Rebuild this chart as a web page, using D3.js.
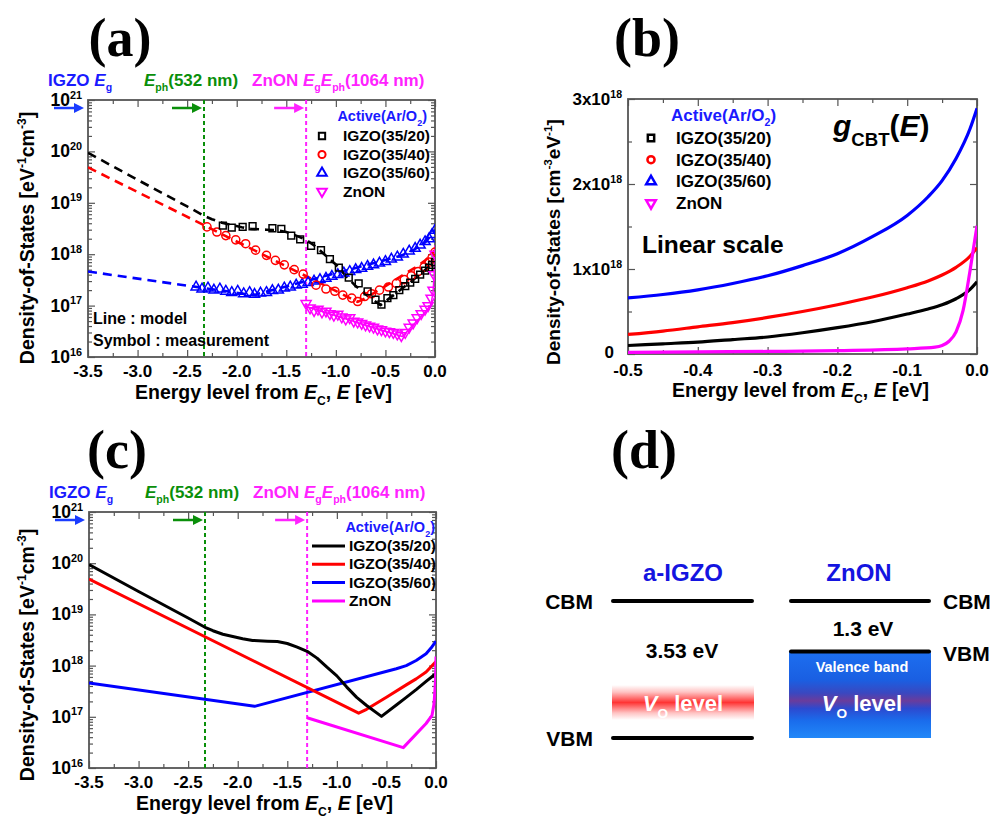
<!DOCTYPE html>
<html>
<head>
<meta charset="utf-8">
<script src="https://cdn.jsdelivr.net/npm/d3@7"></script>
<style>
  body { margin: 0; background: #fff; }
  svg { display: block; font-family: "Liberation Sans", Arial, Helvetica, sans-serif; font-weight: bold; }
</style>
</head>
<body>
<svg id="fig" width="991" height="818"></svg>
<script>
// ---- data ----
const seriesNames = ["IGZO(35/20)", "IGZO(35/40)", "IGZO(35/60)", "ZnON"];

// panels (a)/(c): DOS model curves [E (eV), DOS (eV^-1 cm^-3)]
const model3520 = [[-3.5, 9.4e19], [-3.0, 2.8e19], [-2.5, 8.5e18], [-2.33, 5.6e18], [-2.25, 4.8e18], [-2.15, 4.1e18],
  [-2.05, 3.7e18], [-1.95, 3.35e18], [-1.85, 3.1e18], [-1.7, 3.0e18], [-1.6, 2.95e18], [-1.5, 2.7e18], [-1.4, 2.3e18],
  [-1.3, 1.9e18], [-1.2, 1.4e18], [-1.1, 9.3e17], [-1.0, 6.3e17], [-0.9, 3.8e17], [-0.8, 2.4e17], [-0.7, 1.66e17],
  [-0.55, 1.02e17], [-0.4, 1.7e17], [-0.3, 2.4e17], [-0.2, 3.4e17], [-0.1, 4.9e17], [0, 7.0e17]];
const model3540 = [[-3.5, 4.9e19], [-0.78, 1.18e17], [-0.7, 1.4e17], [-0.5, 2.4e17], [-0.3, 4.2e17], [-0.2, 5.5e17],
  [-0.1, 7.5e17], [0, 1.2e18]];
const model3560 = [[-3.5, 4.6e17], [-1.83, 1.6e17], [-0.4, 8.7e17], [-0.3, 1.0e18], [-0.2, 1.26e18], [-0.1, 1.7e18],
  [-0.05, 2.2e18], [0, 3.0e18]];
const modelZnON = [[-1.3, 9.6e16], [-0.33, 2.5e16], [-0.1, 7.4e16], [-0.04, 1.07e17], [-0.02, 1.8e17], [-0.005, 5e17],
  [0, 1.5e18]];

// panel (a): measured DOS
const meas3520 = [[-2.14, 3.6e18], [-2.05, 3.3e18], [-1.94, 3.4e18], [-1.84, 3.5e18], [-1.64, 3.2e18], [-1.55, 3.1e18],
  [-1.45, 2.3e18], [-1.36, 1.95e18], [-1.25, 1.45e18], [-1.15, 1.2e18], [-1.06, 8e17], [-0.97, 5.5e17], [-0.87, 3.5e17],
  [-0.77, 2.7e17], [-0.68, 1.9e17], [-0.6, 1.3e17], [-0.54, 1.05e17], [-0.48, 1.4e17], [-0.42, 1.6e17], [-0.36, 2.0e17],
  [-0.3, 2.4e17], [-0.25, 2.8e17], [-0.2, 3.3e17], [-0.15, 4.0e17], [-0.1, 4.8e17], [-0.06, 5.5e17], [-0.03, 6.2e17],
  [0, 7.0e17]];
const meas3540 = [[-2.3, 3.4e18], [-2.2, 2.7e18], [-2.11, 2.3e18], [-2.01, 1.9e18], [-1.91, 1.6e18], [-1.81, 1.2e18],
  [-1.7, 9.5e17], [-1.61, 7.6e17], [-1.52, 6.2e17], [-1.42, 5.0e17], [-1.33, 4.1e17], [-1.2, 2.5e17], [-1.1, 2.1e17],
  [-1.01, 1.9e17], [-0.93, 1.6e17], [-0.84, 1.4e17], [-0.78, 1.2e17], [-0.71, 1.5e17], [-0.64, 1.7e17], [-0.56, 2.0e17],
  [-0.47, 2.3e17], [-0.39, 2.7e17], [-0.31, 3.2e17], [-0.24, 3.8e17], [-0.17, 4.6e17], [-0.11, 5.6e17], [-0.06, 7e17],
  [-0.03, 8.5e17], [0, 1.1e18]];
const meas3560 = [[-2.41, 2.3e17], [-2.35, 2.1e17], [-2.29, 2.2e17], [-2.23, 2.0e17], [-2.17, 2.1e17], [-2.11, 1.9e17],
  [-2.05, 1.8e17], [-1.99, 1.9e17], [-1.93, 1.7e17], [-1.87, 1.8e17], [-1.82, 1.65e17], [-1.76, 1.75e17], [-1.7, 1.8e17],
  [-1.64, 1.95e17], [-1.58, 2.0e17], [-1.52, 2.2e17], [-1.46, 2.3e17], [-1.4, 2.5e17], [-1.34, 2.6e17], [-1.28, 2.8e17],
  [-1.22, 3.0e17], [-1.16, 3.2e17], [-1.1, 3.4e17], [-1.04, 3.7e17], [-0.98, 4.0e17], [-0.92, 4.3e17], [-0.86, 4.6e17],
  [-0.8, 5.0e17], [-0.74, 5.3e17], [-0.68, 5.8e17], [-0.62, 6.2e17], [-0.56, 6.7e17], [-0.5, 7.2e17], [-0.44, 8.0e17],
  [-0.38, 8.8e17], [-0.32, 1.0e18], [-0.26, 1.15e18], [-0.2, 1.3e18], [-0.15, 1.5e18], [-0.1, 1.75e18], [-0.06, 2.0e18],
  [-0.03, 2.4e18], [0, 2.9e18]];
const measZnON = [[-1.3, 1.1e17], [-1.26, 9.0e16], [-1.22, 8.0e16], [-1.18, 8.5e16], [-1.14, 7.5e16], [-1.1, 7.8e16],
  [-1.06, 7.0e16], [-1.02, 6.5e16], [-0.98, 6.8e16], [-0.94, 6.0e16], [-0.9, 5.5e16], [-0.86, 5.8e16], [-0.82, 5.0e16],
  [-0.78, 4.8e16], [-0.74, 4.5e16], [-0.7, 4.2e16], [-0.66, 4.0e16], [-0.62, 3.8e16], [-0.58, 3.5e16], [-0.54, 3.4e16],
  [-0.5, 3.2e16], [-0.46, 3.1e16], [-0.42, 3.0e16], [-0.38, 2.8e16], [-0.34, 2.6e16], [-0.3, 3.0e16], [-0.26, 3.8e16],
  [-0.22, 4.6e16], [-0.18, 5.8e16], [-0.14, 7.0e16], [-0.1, 8.5e16], [-0.07, 1.0e17], [-0.04, 1.4e17], [-0.02, 2.0e17],
  [-0.01, 4.0e17], [0, 1.0e18]];

// panel (b): g_CBT(E), linear scale
const gcbtE = [-0.5, -0.45, -0.4, -0.35, -0.3, -0.25, -0.2, -0.15, -0.1, -0.07, -0.05, -0.03, -0.01, 0];
const gcbt3520 = [0.10e18, 0.12e18, 0.14e18, 0.17e18, 0.20e18, 0.25e18, 0.31e18, 0.38e18, 0.47e18, 0.53e18, 0.58e18, 0.65e18, 0.76e18, 0.85e18];
const gcbt3540 = [0.23e18, 0.27e18, 0.32e18, 0.37e18, 0.43e18, 0.50e18, 0.58e18, 0.67e18, 0.78e18, 0.86e18, 0.93e18, 1.02e18, 1.15e18, 1.25e18];
const gcbt3560 = [0.66e18, 0.70e18, 0.755e18, 0.83e18, 0.92e18, 1.04e18, 1.18e18, 1.38e18, 1.63e18, 1.85e18, 2.04e18, 2.3e18, 2.65e18, 2.89e18];
const gcbtZnE = [-0.5, -0.4, -0.3, -0.2, -0.1, -0.06, -0.05, -0.04, -0.03, -0.02, -0.01, 0];
const gcbtZnON = [0.02e18, 0.025e18, 0.03e18, 0.04e18, 0.06e18, 0.08e18, 0.1e18, 0.15e18, 0.26e18, 0.51e18, 0.98e18, 1.51e18];

// axes ticks
const dosTicksE = [-3.5, -3.0, -2.5, -2.0, -1.5, -1.0, -0.5, 0.0];
const dosDecades = [16, 17, 18, 19, 20, 21];
const gcbtTicksE = [-0.5, -0.4, -0.3, -0.2, -0.1, 0.0];
const gcbtTicksY = [0, 1e18, 2e18, 3e18];
const gcbtTickLabels = ["0", "1x10|18", "2x10|18", "3x10|18"];

// photon-energy markers: 532 nm photon, ZnON Eg / 1064 nm
const markerE = [-2.33, -1.30];

// panel (d) band gaps
const gapIGZO = 3.53;
const gapZnON = 1.3;

// ---- styles ----
const colors = ["#000000", "#ff0000", "#0000ff", "#ff00ff"];
const FRAME = "#555";
const GREEN = "#0a8f0a";
const BLUE_TXT = "#1a1aff";
const MAG = "#ff22ff";

const svg = d3.select("#fig");

// text with sub/superscripts and italics
function rich(sel, parts, size) {
  let shift = 0;
  parts.forEach(p => {
    if (typeof p === "string") p = { t: p };
    let target = 0, fs = size;
    if (p.sup) { target = -0.42 * size; fs = size * 0.62; }
    if (p.sub) { target = 0.32 * size; fs = size * 0.62; }
    const ts = sel.append("tspan").text(p.t).attr("font-size", fs).attr("dy", target - shift);
    if (p.it) ts.attr("font-style", "italic");
    shift = target;
  });
  return sel;
}

function axesBox(g, x, y, xMaj, xMin, yMaj, yMin) {
  const [l, r] = x.range(), [b, t] = y.range();
  const mk = (axis, tr, vals, len) => {
    const a = g.append("g").attr("transform", tr)
      .call(axis.tickValues(vals).tickSize(len).tickFormat(() => ""));
    a.select(".domain").remove();
    a.selectAll("line").attr("stroke", FRAME).attr("stroke-width", 1.2);
  };
  mk(d3.axisBottom(x), `translate(0,${b})`, xMaj, -7);
  mk(d3.axisBottom(x), `translate(0,${b})`, xMin, -4);
  mk(d3.axisTop(x), `translate(0,${t})`, xMaj, -7);
  mk(d3.axisTop(x), `translate(0,${t})`, xMin, -4);
  mk(d3.axisLeft(y), `translate(${l},0)`, yMaj, -7);
  mk(d3.axisLeft(y), `translate(${l},0)`, yMin, -4);
  mk(d3.axisRight(y), `translate(${r},0)`, yMaj, -7);
  mk(d3.axisRight(y), `translate(${r},0)`, yMin, -4);
  g.append("rect").attr("x", l).attr("y", t).attr("width", r - l).attr("height", b - t)
    .attr("fill", "none").attr("stroke", FRAME).attr("stroke-width", 1.8);
}

function arrow(g, x1, x2, y, color) {
  g.append("line").attr("x1", x1).attr("x2", x2 - 6).attr("y1", y).attr("y2", y)
    .attr("stroke", color).attr("stroke-width", 2.5);
  g.append("path").attr("d", `M${x2},${y}L${x2 - 10},${y - 5}L${x2 - 10},${y + 5}Z`).attr("fill", color);
}

function symbolPath(i, size) {
  const types = [d3.symbolSquare, d3.symbolCircle, d3.symbolTriangle, d3.symbolTriangle];
  return d3.symbol(types[i], size)();
}

function eLabel(g, cx, y, size) {
  rich(g.append("text").attr("x", cx).attr("y", y).attr("text-anchor", "middle"),
    ["Energy level from ", { t: "E", it: true }, { t: "C", sub: true }, ", ", { t: "E", it: true }, " [eV]"], size);
}

function panelLabel(txt, cx, y) {
  svg.append("text").attr("x", cx).attr("y", y).attr("text-anchor", "middle")
    .style("font-family", '"Liberation Serif", "Times New Roman", serif')
    .attr("font-size", 54).text(txt);
}

// ---- panels (a) and (c): log DOS ----
function logPanel(box, mode, id) {
  const x = d3.scaleLinear().domain([-3.5, 0]).range([box.left, box.right]);
  const y = d3.scaleLog().domain([1e16, 1e21]).range([box.bottom, box.top]);
  const g = svg.append("g");

  g.append("clipPath").attr("id", id).append("rect")
    .attr("x", box.left).attr("y", box.top).attr("width", box.right - box.left).attr("height", box.bottom - box.top);

  const xMinor = dosTicksE.slice(1).map(v => v - 0.25);
  const yMajor = dosDecades.map(d => Math.pow(10, d));
  const yMinor = [];
  dosDecades.slice(0, -1).forEach(d => { for (let k = 2; k <= 9; k++) yMinor.push(k * Math.pow(10, d)); });
  axesBox(g, x, y, dosTicksE, xMinor, yMajor, yMinor);

  // marker lines
  const mColors = [GREEN, MAG];
  markerE.forEach((e, i) => {
    g.append("line").attr("x1", x(e)).attr("x2", x(e)).attr("y1", box.top).attr("y2", box.bottom)
      .attr("stroke", mColors[i]).attr("stroke-width", 2).attr("stroke-dasharray", "4,3");
    arrow(g, x(e) - 32, x(e) - 2, box.top + 8, mColors[i]);
  });
  arrow(g, box.left - 34, box.left - 4, box.top + 8, "#1a3cff");

  // models
  const models = [model3560, model3540, model3520, modelZnON];
  const order = [2, 1, 0, 3];
  const line = d3.line().x(d => x(d[0])).y(d => y(d[1]));
  const plot = g.append("g").attr("clip-path", `url(#${id})`);
  models.forEach((m, k) => {
    const i = order[k];
    const p = plot.append("path").datum(m).attr("d", line).attr("fill", "none")
      .attr("stroke", colors[i]).attr("stroke-linejoin", "round");
    if (mode === "a") {
      p.attr("stroke-width", 2.6).attr("stroke-dasharray", "9,6");
      if (i === 3) p.attr("stroke-width", 1.5).attr("stroke-dasharray", null);
    } else {
      p.attr("stroke-width", 3);
    }
  });

  if (mode === "a") {
    const meas = [meas3560, meas3540, meas3520, measZnON];
    const sizes = [46, 52, 44, 44];
    meas.forEach((m, k) => {
      const i = order[k];
      plot.append("g").selectAll("path").data(m).join("path")
        .attr("d", symbolPath(i, sizes[i]))
        .attr("transform", d => `translate(${x(d[0])},${y(d[1])})` + (i === 3 ? " rotate(180)" : ""))
        .attr("fill", "none").attr("stroke", colors[i]).attr("stroke-width", 1.5);
    });
    g.append("text").attr("x", box.left + 5).attr("y", box.bottom - 33).attr("font-size", 16).text("Line : model");
    g.append("text").attr("x", box.left + 5).attr("y", box.bottom - 11).attr("font-size", 16).text("Symbol : measurement");

    // legend
    rich(g.append("text").attr("x", box.right - 8).attr("y", box.top + 21).attr("text-anchor", "end").attr("fill", BLUE_TXT),
      ["Active(Ar/O", { t: "2", sub: true }, ")"], 14.5);
    seriesNames.forEach((n, i) => {
      const yy = box.top + 36 + i * 18.5;
      g.append("path").attr("d", symbolPath(i, 40))
        .attr("transform", `translate(${box.right - 113},${yy})` + (i === 3 ? " rotate(180)" : ""))
        .attr("fill", "none").attr("stroke", colors[i]).attr("stroke-width", 2);
      g.append("text").attr("x", box.right - 92).attr("y", yy + 5).attr("font-size", 15.5).text(n);
    });
  } else {
    rich(g.append("text").attr("x", box.right - 1).attr("y", box.top + 20).attr("text-anchor", "end").attr("fill", BLUE_TXT),
      ["Active(Ar/O", { t: "2", sub: true }, ")"], 14.5);
    seriesNames.forEach((n, i) => {
      const yy = box.top + 34 + i * 18.3;
      g.append("line").attr("x1", box.right - 124).attr("x2", box.right - 91).attr("y1", yy).attr("y2", yy)
        .attr("stroke", colors[i]).attr("stroke-width", 3);
      g.append("text").attr("x", box.right - 87).attr("y", yy + 5).attr("font-size", 15.5).text(n);
    });
  }

  // tick labels
  g.append("g").selectAll("text").data(dosTicksE).join("text")
    .attr("x", d => x(d)).attr("y", box.bottom + 20).attr("text-anchor", "middle").attr("font-size", 17)
    .text(d => d.toFixed(1));
  dosDecades.forEach(d => {
    rich(g.append("text").attr("x", box.left - 6).attr("y", y(Math.pow(10, d)) + 6).attr("text-anchor", "end"),
      ["10", { t: String(d), sup: true }], 17.5);
  });

  // top annotations
  const ty = box.top - 14;
  rich(g.append("text").attr("x", box.left - 40).attr("y", ty).attr("fill", BLUE_TXT),
    ["IGZO ", { t: "E", it: true }, { t: "g", sub: true }], 17);
  rich(g.append("text").attr("x", box.left + 56).attr("y", ty).attr("fill", GREEN),
    [{ t: "E", it: true }, { t: "ph", sub: true }, "(532 nm)"], 17);
  rich(g.append("text").attr("x", box.left + 164).attr("y", ty).attr("fill", MAG),
    ["ZnON ", { t: "E", it: true }, { t: "g", sub: true }, { t: "E", it: true }, { t: "ph", sub: true }, "(1064 nm)"], 17);

  eLabel(g, (box.left + box.right) / 2 + 2, box.bottom + 42, 19.5);
  rich(g.append("text").attr("transform", `translate(34,${box.yc}) rotate(-90)`).attr("text-anchor", "middle"),
    ["Density-of-States [eV", { t: "-1", sup: true }, "cm", { t: "-3", sup: true }, "]"], 19.5);
}

logPanel({ left: 88, right: 435, top: 100, bottom: 357, yc: 238 }, "a", "clipA");
logPanel({ left: 89, right: 436, top: 512, bottom: 768, yc: 655 }, "c", "clipC");

// ---- panel (b): g_CBT linear ----
(function () {
  const box = { left: 628, right: 977, top: 99, bottom: 354 };
  const x = d3.scaleLinear().domain([-0.5, 0]).range([box.left, box.right]);
  const y = d3.scaleLinear().domain([0, 3e18]).range([box.bottom, box.top]);
  const g = svg.append("g");
  g.append("clipPath").attr("id", "clipB").append("rect")
    .attr("x", box.left).attr("y", box.top - 2).attr("width", box.right - box.left).attr("height", box.bottom - box.top + 2);

  const xMinor = gcbtTicksE.slice(1).map(v => v - 0.05);
  const yMinor = gcbtTicksY.slice(1).map(v => v - 0.5e18);
  axesBox(g, x, y, gcbtTicksE, xMinor, gcbtTicksY, yMinor);

  const line = d3.line().x(d => x(d[0])).y(d => y(d[1])).curve(d3.curveMonotoneX);
  const curves = [
    [gcbtE, gcbt3520, 0], [gcbtE, gcbt3540, 1], [gcbtE, gcbt3560, 2], [gcbtZnE, gcbtZnON, 3]
  ];
  const plot = g.append("g").attr("clip-path", "url(#clipB)");
  curves.forEach(([es, vs, i]) => {
    plot.append("path").datum(es.map((e, k) => [e, vs[k]])).attr("d", line)
      .attr("fill", "none").attr("stroke", colors[i]).attr("stroke-width", 3.2);
  });

  // legend
  rich(g.append("text").attr("x", 671).attr("y", 121).attr("fill", BLUE_TXT),
    ["Active(Ar/O", { t: "2", sub: true }, ")"], 17);
  seriesNames.forEach((n, i) => {
    const yy = 138 + i * 21.7;
    g.append("path").attr("d", symbolPath(i, 40))
      .attr("transform", `translate(651,${yy})` + (i === 3 ? " rotate(180)" : ""))
      .attr("fill", "none").attr("stroke", colors[i]).attr("stroke-width", 2.5);
    g.append("text").attr("x", 676).attr("y", yy + 6).attr("font-size", 17).text(n);
  });

  rich(g.append("text").attr("x", 833).attr("y", 136),
    [{ t: "g", it: true }, { t: "CBT", sub: true }, "(", { t: "E", it: true }, ")"], 30);
  g.append("text").attr("x", 642).attr("y", 253).attr("font-size", 24.5).text("Linear scale");

  g.append("g").selectAll("text").data(gcbtTicksE).join("text")
    .attr("x", d => x(d)).attr("y", box.bottom + 22).attr("text-anchor", "middle").attr("font-size", 17)
    .text(d => d.toFixed(1));
  gcbtTicksY.forEach((v, i) => {
    const [base, ex] = gcbtTickLabels[i].split("|");
    const parts = ex ? [base, { t: ex, sup: true }] : [base];
    const xEnd = ex ? box.left - 6 : box.left - 14;
    rich(g.append("text").attr("x", xEnd).attr("y", y(v) + (ex ? 6 : 4)).attr("text-anchor", "end"), parts, 17);
  });

  eLabel(g, (box.left + box.right) / 2 - 2, box.bottom + 43, 19.5);
  rich(g.append("text").attr("transform", `translate(560,242) rotate(-90)`).attr("text-anchor", "middle"),
    ["Density-of-States [cm", { t: "-3", sup: true }, "eV", { t: "-1", sup: true }, "]"], 19);
})();

// ---- panel (d): band schematic ----
(function () {
  const g = svg.append("g");
  const bandY = d3.scaleLinear().domain([0, -gapIGZO]).range([601, 738]);
  const defs = g.append("defs");
  const red = defs.append("linearGradient").attr("id", "gRed").attr("x1", 0).attr("x2", 0).attr("y1", 0).attr("y2", 1);
  [[0, "#ffffff"], [0.2, "#ffc4c4"], [0.5, "#ff3434"], [0.8, "#ffc4c4"], [1, "#ffffff"]]
    .forEach(([o, c]) => red.append("stop").attr("offset", o).attr("stop-color", c));
  const blue = defs.append("linearGradient").attr("id", "gBlue").attr("x1", 0).attr("x2", 0).attr("y1", 0).attr("y2", 1);
  [[0, "#1d6ff0"], [0.33, "#1a5fe2"], [0.48, "#3a48c0"], [0.57, "#6a3c9c"], [0.66, "#2c4ad0"], [0.8, "#1a6cec"], [1, "#2288f8"]]
    .forEach(([o, c]) => blue.append("stop").attr("offset", o).attr("stop-color", c));

  const xI = [613, 752], xZ = [791, 929];
  const cbm = bandY(0), vbmI = bandY(-gapIGZO), vbmZ = bandY(-gapZnON);

  // V_O level boxes
  g.append("rect").attr("x", 612).attr("y", 685).attr("width", 142).attr("height", 35).attr("fill", "url(#gRed)");
  g.append("rect").attr("x", 789).attr("y", vbmZ).attr("width", 142).attr("height", vbmI - vbmZ).attr("fill", "url(#gBlue)");

  const lvl = (xs, yy) => g.append("line").attr("x1", xs[0]).attr("x2", xs[1]).attr("y1", yy).attr("y2", yy)
    .attr("stroke", "#000").attr("stroke-width", 4).attr("stroke-linecap", "round");
  lvl(xI, cbm); lvl(xI, vbmI); lvl(xZ, cbm); lvl(xZ, vbmZ);

  g.append("text").attr("x", 683).attr("y", 581).attr("text-anchor", "middle").attr("font-size", 24).attr("fill", "#1414e0").text("a-IGZO");
  g.append("text").attr("x", 859).attr("y", 581).attr("text-anchor", "middle").attr("font-size", 24).attr("fill", "#1414e0").text("ZnON");
  g.append("text").attr("x", 593).attr("y", cbm + 8).attr("text-anchor", "end").attr("font-size", 21).text("CBM");
  g.append("text").attr("x", 593).attr("y", vbmI + 8).attr("text-anchor", "end").attr("font-size", 21).text("VBM");
  g.append("text").attr("x", 943).attr("y", cbm + 8).attr("font-size", 21).text("CBM");
  g.append("text").attr("x", 943).attr("y", vbmZ + 10).attr("font-size", 21).text("VBM");
  g.append("text").attr("x", 682).attr("y", 658).attr("text-anchor", "middle").attr("font-size", 21).text(gapIGZO.toFixed(2) + " eV");
  g.append("text").attr("x", 863).attr("y", 636).attr("text-anchor", "middle").attr("font-size", 21).text(gapZnON.toFixed(1) + " eV");
  g.append("text").attr("x", 862).attr("y", 672).attr("text-anchor", "middle").attr("font-size", 14.5).attr("fill", "#fff").text("Valence band");
  rich(g.append("text").attr("x", 683).attr("y", 711).attr("text-anchor", "middle").attr("fill", "#fff"),
    [{ t: "V", it: true }, { t: "O", sub: true }, " level"], 22);
  rich(g.append("text").attr("x", 862).attr("y", 711).attr("text-anchor", "middle").attr("fill", "#fff"),
    [{ t: "V", it: true }, { t: "O", sub: true }, " level"], 22);
})();

panelLabel("(a)", 120, 56);
panelLabel("(b)", 647, 56);
panelLabel("(c)", 117, 468);
panelLabel("(d)", 644, 468);
</script>
</body>
</html>
